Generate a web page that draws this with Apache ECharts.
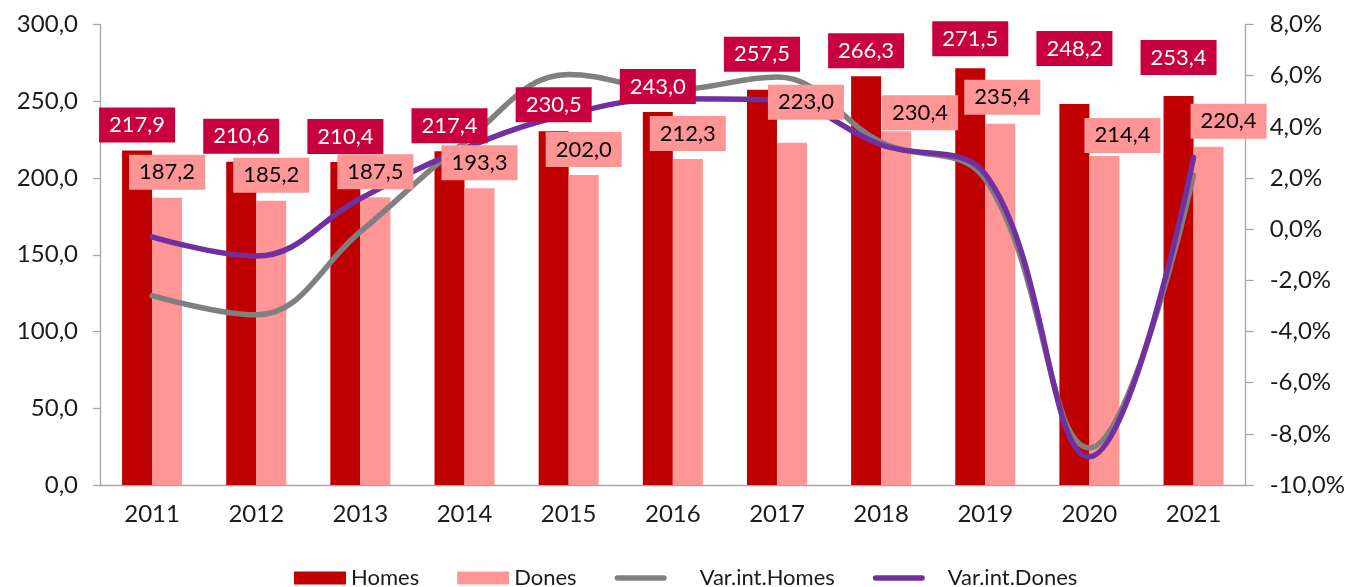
<!DOCTYPE html>
<html>
<head>
<meta charset="utf-8">
<script src="https://cdn.jsdelivr.net/npm/echarts@6/dist/echarts.min.js"></script>
<style>
html, body { margin: 0; padding: 0; background: #fff; }
#main { width: 1348px; height: 587px; }
</style>
</head>
<body>
<div id="main"></div>
<script>
// dades
var anys = [ '2011', '2012', '2013', '2014', '2015', '2016', '2017', '2018', '2019', '2020', '2021' ];
var homes = [ 217.9, 210.6, 210.4, 217.4, 230.5, 243.0, 257.5, 266.3, 271.5, 248.2, 253.4 ];
var dones = [ 187.2, 185.2, 187.5, 193.3, 202.0, 212.3, 223.0, 230.4, 235.4, 214.4, 220.4 ];
var varHomes = [ -2.6, -3.35, -0.1, 3.4, 6.05, 5.45, 5.95, 3.4, 1.95, -8.55, 2.1 ];
var varDones = [ -0.3, -1.05, 1.2, 3.15, 4.5, 5.1, 5.05, 3.3, 2.15, -8.9, 2.8 ];

// desplaçament manual de les etiquetes (px)
var homesLabelShift = [ [0,0], [0,0], [0,0], [0,0], [0,-1], [0,0], [0,-10], [0,0], [0,-4], [0,-30], [0,-13] ];
var donesLabelShift = [ [0,0], [0,0], [0,0], [0,0], [0,0], [0,0], [14,-15], [24,7], [2,-1], [18,5], [20,0] ];

var FONT = 'Lato';
var LINE_ICON = 'path://M3,0 L54,0 A3,3 0 0 1 54,6 L3,6 A3,3 0 0 1 3,0 Z';

function coma(v) {
	return v.toFixed(1).replace('.', ',');
}

function barData(vals, shift) {
	return vals.map(function (v, i) {
		return { value : v, label : { offset : shift[i] } };
	});
}

function labelStyle(bg, fg) {
	return {
		show : true,
		position : 'top',
		distance : 8,
		fontSize : 22,
		lineHeight : 25,
		color : fg,
		backgroundColor : bg,
		padding : [ 5, 10, 5, 10 ],
		formatter : function (p) { return coma(p.value); }
	};
}

var myChart = echarts.init(document.getElementById('main'));
var option = {
	animation : false,
	textStyle : { fontFamily : FONT },
	color : [ '#c00000', '#ff9595', '#808080', '#7030a0' ],
	grid : {
		left : 100,
		right : 100,
		top : 24.5,
		bottom : 102
	},
	legend : {
		left : 289,
		top : 562,
		itemWidth : 52,
		itemHeight : 13,
		itemGap : 38,
		textStyle : { fontSize : 22, color : '#1a1a1a', fontFamily : FONT },
		data : [
			{ name : 'Homes', icon : 'rect' },
			{ name : 'Dones', icon : 'rect' },
			{ name : 'Var.int.Homes', icon : LINE_ICON, itemStyle : { color : '#808080' }, textStyle : { padding : [0, 0, 0, 28] } },
			{ name : 'Var.int.Dones', icon : LINE_ICON, itemStyle : { color : '#7030a0' }, textStyle : { padding : [0, 0, 0, 18] } } ]
	},
	xAxis : [ {
		type : 'category',
		data : anys,
		axisLine : { lineStyle : { color : '#a6a6a6', width : 1.3 } },
		axisTick : { length : 7, lineStyle : { color : '#a6a6a6', width : 1.3 } },
		axisLabel : { fontSize : 24, color : '#1a1a1a', margin : 17 }
	}, {
		// eix ocult per dibuixar les etiquetes per sobre de les línies
		type : 'category',
		data : anys,
		show : false
	} ],
	yAxis : [ {
		type : 'value',
		min : 0,
		max : 300,
		interval : 50,
		splitLine : { show : false },
		axisLine : { show : true, lineStyle : { color : '#a6a6a6', width : 1.3 } },
		axisTick : { show : true, length : 7, lineStyle : { color : '#a6a6a6', width : 1.3 } },
		axisLabel : {
			fontSize : 24,
			color : '#1a1a1a',
			margin : 22,
			formatter : function (v) { return coma(v); }
		}
	}, {
		type : 'value',
		min : -10,
		max : 8,
		interval : 2,
		splitLine : { show : false },
		axisLine : { show : true, lineStyle : { color : '#a6a6a6', width : 1.3 } },
		axisTick : { show : true, length : 8, lineStyle : { color : '#a6a6a6', width : 1.3 } },
		axisLabel : {
			fontSize : 24,
			color : '#1a1a1a',
			margin : 24,
			formatter : function (v) { return coma(v) + '%'; }
		}
	} ],
	series : [ {
		name : 'Homes',
		type : 'bar',
		barWidth : 30,
		barGap : '0%',
		z : 2,
		data : homes
	}, {
		name : 'Dones',
		type : 'bar',
		barWidth : 30,
		barGap : '0%',
		z : 2,
		data : dones
	}, {
		name : 'Var.int.Homes',
		type : 'line',
		yAxisIndex : 1,
		smooth : 0.4,
		symbol : 'none',
		z : 3,
		data : varHomes,
		lineStyle : { width : 5.5, color : '#808080', cap : 'round' }
	}, {
		name : 'Var.int.Dones',
		type : 'line',
		yAxisIndex : 1,
		smooth : 0.4,
		symbol : 'none',
		z : 3,
		data : varDones,
		lineStyle : { width : 5.5, color : '#7030a0', cap : 'round' }
	}, {
		name : 'etiquetaHomes',
		type : 'bar',
		xAxisIndex : 1,
		barWidth : 30,
		barGap : '0%',
		z : 5,
		silent : true,
		itemStyle : { color : 'rgba(0,0,0,0)' },
		data : barData(homes, homesLabelShift),
		label : labelStyle('#c9003f', '#fff')
	}, {
		name : 'etiquetaDones',
		type : 'bar',
		xAxisIndex : 1,
		barWidth : 30,
		barGap : '0%',
		z : 5,
		silent : true,
		itemStyle : { color : 'rgba(0,0,0,0)' },
		data : barData(dones, donesLabelShift),
		label : labelStyle('#ff9595', '#000')
	} ]
};
myChart.setOption(option);
</script>
</body>
</html>
